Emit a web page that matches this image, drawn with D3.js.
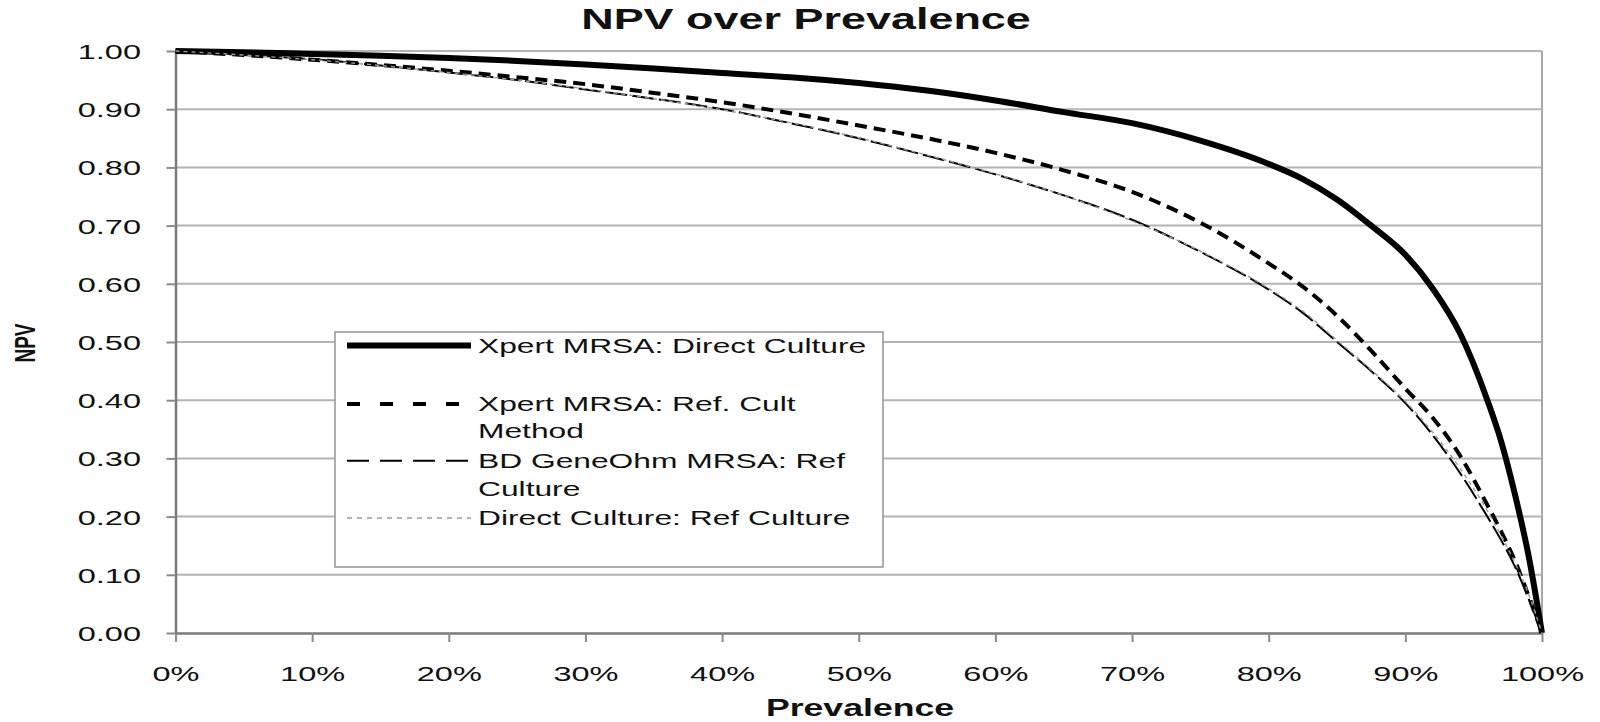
<!DOCTYPE html>
<html><head><meta charset="utf-8">
<script src="https://cdn.jsdelivr.net/npm/d3@7"></script>
<style>
body{margin:0;background:#fff}
svg{display:block}
text{font-family:"Liberation Sans",Arial,Helvetica,sans-serif;fill:#111}
</style>
</head><body>
<svg id="c" width="1600" height="722"></svg>
<script>
// ---- data ----
const prevalence   = [0, 0.05, 0.10, 0.15, 0.20, 0.25, 0.30, 0.35, 0.40, 0.45, 0.50, 0.55, 0.60, 0.65, 0.70, 0.75, 0.80, 0.825, 0.85, 0.875, 0.90, 0.92, 0.94, 0.96, 0.97, 0.98, 0.99, 1.00];
const xpertDirect  = [1.000, 0.998, 0.995, 0.992, 0.988, 0.983, 0.977, 0.970, 0.962, 0.955, 0.945, 0.932, 0.915, 0.895, 0.876, 0.846, 0.806, 0.780, 0.745, 0.700, 0.650, 0.592, 0.515, 0.400, 0.330, 0.240, 0.135, 0.000];
const xpertRefCult = [1.000, 0.993, 0.985, 0.976, 0.966, 0.955, 0.943, 0.928, 0.912, 0.893, 0.872, 0.850, 0.825, 0.795, 0.758, 0.705, 0.635, 0.595, 0.545, 0.485, 0.420, 0.370, 0.305, 0.220, 0.175, 0.125, 0.065, 0.000];
const bdGeneOhm    = [1.000, 0.993, 0.986, 0.975, 0.963, 0.950, 0.934, 0.918, 0.900, 0.876, 0.850, 0.820, 0.788, 0.752, 0.710, 0.655, 0.590, 0.550, 0.500, 0.450, 0.395, 0.340, 0.275, 0.200, 0.160, 0.115, 0.060, 0.000];
const directRef    = [1.000, 0.993, 0.985, 0.975, 0.963, 0.950, 0.935, 0.918, 0.899, 0.877, 0.851, 0.821, 0.789, 0.752, 0.708, 0.656, 0.592, 0.553, 0.503, 0.452, 0.398, 0.345, 0.283, 0.210, 0.168, 0.122, 0.068, 0.000];
const seriesNames  = [["Xpert MRSA: Direct Culture"], ["Xpert MRSA: Ref. Cult", "Method"], ["BD GeneOhm MRSA: Ref", "Culture"], ["Direct Culture: Ref Culture"]];
const yTicks = [0, 0.1, 0.2, 0.3, 0.4, 0.5, 0.6, 0.7, 0.8, 0.9, 1.0];
const xTicks = [0, 0.1, 0.2, 0.3, 0.4, 0.5, 0.6, 0.7, 0.8, 0.9, 1.0];
const chartTitle = "NPV over Prevalence", xTitle = "Prevalence", yTitle = "NPV";

// ---- layout / styles ----
const SX = 1.55; // horizontal text stretch seen in reference
const m = {l: 175.5, r: 1542, t: 51, b: 633};
const svg = d3.select("#c");
const x = d3.scaleLinear().domain([0, 1]).range([m.l, m.r]);
const y = d3.scaleLinear().domain([0, 1]).range([m.b, m.t]);

const styles = [
  {w: 6,   dash: null,    color: "#000", legDash: null},
  {w: 4,   dash: "12,7",  color: "#000", legDash: "13,20"},
  {w: 2,   dash: "22,5",  color: "#000", legDash: "22,11"},
  {w: 1.4, dash: "4,4",   color: "#9a9a9a", legDash: "5,5"}
];

// gridlines
svg.append("g").selectAll("line").data(yTicks.filter(d => d > 0)).join("line")
  .attr("x1", m.l).attr("x2", m.r).attr("y1", d => y(d)).attr("y2", d => y(d))
  .attr("stroke", "#b4b4b4").attr("stroke-width", 2);
// right border
svg.append("line").attr("x1", m.r).attr("x2", m.r).attr("y1", m.t).attr("y2", m.b)
  .attr("stroke", "#a8a8a8").attr("stroke-width", 2);

// axes
const ya = svg.append("g").attr("transform", `translate(${m.l},0)`)
  .call(d3.axisLeft(y).tickValues(yTicks).tickFormat(d3.format(".2f")).tickSize(9).tickSizeOuter(0));
const xa = svg.append("g").attr("transform", `translate(0,${m.b})`)
  .call(d3.axisBottom(x).tickValues(xTicks).tickFormat(d3.format(".0%")).tickSize(9).tickSizeOuter(0));
[ya, xa].forEach(a => {
  a.select(".domain").attr("stroke", "#7a7a7a").attr("stroke-width", 2.5);
  a.selectAll(".tick line").attr("stroke", "#8a8a8a").attr("stroke-width", 2);
  a.selectAll(".tick text").attr("font-size", 21).attr("fill", "#111")
    .style("font-family", '"Liberation Sans",Arial,sans-serif');
});
ya.selectAll(".tick text").attr("x", -34.5 / SX).attr("dy", "0.36em").attr("transform", `scale(${SX},1)`);
xa.selectAll(".tick text").attr("y", 40).attr("dy", "0.36em").attr("transform", `scale(${SX},1)`);

// series
const allSeries = [xpertDirect, xpertRefCult, bdGeneOhm, directRef];
const line = d3.line().x(d => x(d[0])).y(d => y(d[1])).curve(d3.curveMonotoneX);
allSeries.forEach((vals, i) => {
  const s = styles[i];
  svg.append("path").datum(prevalence.map((p, j) => [p, vals[j]]))
    .attr("d", line).attr("fill", "none")
    .attr("stroke", s.color).attr("stroke-width", s.w)
    .attr("stroke-dasharray", s.dash).attr("stroke-linejoin", "round");
});

// legend
const lg = svg.append("g");
lg.append("rect").attr("x", 335).attr("y", 332).attr("width", 548).attr("height", 235)
  .attr("fill", "#fff").attr("stroke", "#9a9a9a").attr("stroke-width", 1.6);
const rowY = [[345.6], [404, 430.6], [460.7, 488.8], [518]];
seriesNames.forEach((lines, i) => {
  const s = styles[i];
  lg.append("line").attr("x1", 347).attr("x2", 471).attr("y1", rowY[i][0]).attr("y2", rowY[i][0])
    .attr("stroke", s.color).attr("stroke-width", s.w).attr("stroke-dasharray", s.legDash);
  lines.forEach((t, k) => {
    lg.append("text").attr("transform", `translate(478,${rowY[i][k]}) scale(${SX},1)`)
      .attr("dy", "0.36em").attr("font-size", 20.5).text(t);
  });
});

// titles
svg.append("text").attr("transform", `translate(806,18.5) scale(${SX},1)`)
  .attr("text-anchor", "middle").attr("dy", "0.36em").attr("font-size", 29).attr("font-weight", "bold").text(chartTitle);
svg.append("text").attr("transform", `translate(860,708) scale(${SX},1)`)
  .attr("text-anchor", "middle").attr("dy", "0.36em").attr("font-size", 23).attr("font-weight", "bold").text(xTitle);
svg.append("text").attr("transform", `translate(24.5,343) scale(${SX},1) rotate(-90)`)
  .attr("text-anchor", "middle").attr("dy", "0.36em").attr("font-size", 19).attr("font-weight", "bold").text(yTitle);
</script>
</body></html>
